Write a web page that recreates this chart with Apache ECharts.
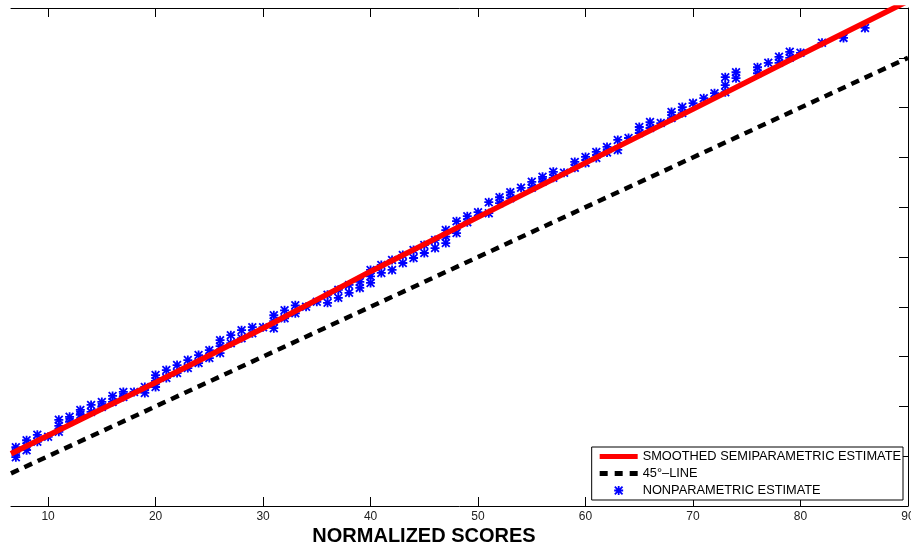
<!DOCTYPE html>
<html>
<head>
<meta charset="utf-8">
<script src="https://cdn.jsdelivr.net/npm/echarts@6.0.0/dist/echarts.min.js"></script>
<style>
html,body{margin:0;padding:0;background:#fff;}
#chart{width:911px;height:545px;}
</style>
</head>
<body>
<div id="chart"></div>
<script type="text/javascript">
// x tick labels
var xTicks = [10, 20, 30, 40, 50, 60, 70, 80, 90];

// smoothed semiparametric estimate (red)
var semiX = [6.55, 20, 30, 40, 50, 60, 70, 80, 90];
var semiY = [10.5, 24.8, 35.7, 47.1, 58.0, 68.9, 79.7, 90.6, 101.4];

// 45 degree line
var diagX = [6.55, 90];
var diagY = [6.55, 90];

// nonparametric estimate (blue stars)
var npX = [7, 7, 7, 8, 8, 8, 9, 9, 10, 11, 11, 11, 12, 12, 13, 13, 14, 14, 15, 15,
  16, 16, 17, 17, 18, 19, 19, 20, 20, 20, 21, 21, 22, 22, 23, 23, 24, 24, 25, 25,
  26, 26, 26, 27, 27, 28, 28, 29, 29, 30, 31, 31, 31, 32, 32, 33, 33, 34, 35,
  36, 36, 37, 37, 38, 38, 39, 39, 40, 40, 40, 41, 41, 42, 42, 43, 43, 44, 44,
  45, 45, 46, 46, 47, 47, 47, 48, 48, 49, 49, 50, 51, 51, 52, 52, 53, 53, 54,
  55, 55, 56, 56, 57, 57, 58, 59, 59, 60, 60, 61, 61, 62, 62, 63, 63, 64,
  65, 65, 66, 66, 67, 68, 68, 69, 69, 70, 71, 72, 73, 73, 73, 74, 74,
  76, 76, 77, 78, 78, 79, 79, 80, 82, 84, 86];
var npY = [11.8, 10.8, 9.8, 13.2, 12.0, 11.2, 14.3, 12.9, 13.9, 17.3, 16.1, 14.9, 17.9, 16.9, 19.3, 18.3, 20.3, 18.9, 20.9, 19.9,
  22.1, 20.9, 22.9, 21.9, 22.9, 23.9, 22.7, 26.3, 25.1, 23.9, 27.3, 25.7, 28.3, 26.7, 29.3, 27.7, 30.3, 28.7, 31.3, 29.7,
  33.3, 32.1, 30.7, 34.3, 32.7, 35.3, 33.7, 35.9, 34.7, 35.9, 38.3, 37.1, 35.7, 39.3, 37.7, 40.3, 38.7, 40.0, 41.0,
  42.4, 40.8, 43.4, 41.8, 44.4, 42.8, 45.0, 43.8, 47.4, 46.1, 44.8, 48.4, 46.8, 49.4, 47.4, 50.4, 48.8, 51.4, 49.8,
  52.4, 50.8, 53.4, 51.8, 55.4, 54.1, 52.8, 57.2, 54.8, 58.2, 57.0, 59.0, 61.0, 58.8, 62.0, 60.8, 63.0, 61.8, 63.9,
  65.1, 63.9, 66.1, 65.1, 67.1, 65.9, 66.9, 69.1, 67.9, 70.1, 68.9, 71.1, 69.9, 72.1, 71.0, 73.5, 71.5, 73.9,
  76.1, 74.9, 77.1, 75.9, 76.9, 79.1, 77.9, 80.1, 78.9, 80.9, 81.9, 82.9, 86.1, 84.5, 83.1, 87.1, 85.9,
  88.1, 86.9, 89.0, 90.2, 89.0, 91.2, 90.0, 91.0, 93.0, 94.0, 96.0];

function pairs(xs, ys) {
  var out = [];
  for (var i = 0; i < xs.length; i++) out.push([xs[i], ys[i]]);
  return out;
}

// matlab style '*' marker
var star = 'path://M8,0L12,0L12,20L8,20Z M0,8L20,8L20,12L0,12Z M2.8,0L20,17.2L17.2,20L0,2.8Z M17.2,0L20,2.8L2.8,20L0,17.2Z';
// legend icons for the two lines
var solidIcon = 'path://M0,0L38,0L38,5L0,5Z';
var dashIcon = 'path://M0,0L8,0L8,5L0,5Z M15,0L23,0L23,5L15,5Z M30,0L38,0L38,5L30,5Z';

var font = '"Liberation Sans", Arial, Helvetica, sans-serif';

var chart = echarts.init(document.getElementById('chart'), null, {renderer: 'canvas'});
chart.setOption({
  animation: false,
  backgroundColor: '#fff',
  grid: {left: 11, right: 3, top: 8, bottom: 39, containLabel: false, outerBoundsMode: 'none'},
  legend: {
    orient: 'vertical',
    right: 8,
    bottom: 45,
    padding: [3, 2, 3, 8],
    itemGap: 4,
    itemWidth: 38,
    itemHeight: 9,
    borderColor: '#000',
    borderWidth: 1,
    backgroundColor: '#fff',
    textStyle: {fontFamily: font, fontSize: 12.8, color: '#000'},
    data: [
      {name: 'SMOOTHED SEMIPARAMETRIC ESTIMATE', icon: solidIcon},
      {name: '45\u00B0\u2013LINE', icon: dashIcon},
      {name: 'NONPARAMETRIC ESTIMATE'}
    ]
  },
  xAxis: [{
    type: 'value',
    position: 'bottom',
    min: 6.55,
    max: 90,
    axisLine: {show: true, onZero: false, lineStyle: {color: '#000', width: 1}},
    axisTick: {show: true, inside: true, length: 9, customValues: xTicks, lineStyle: {color: '#000'}},
    axisLabel: {show: true, margin: 5, customValues: xTicks, fontFamily: font, fontSize: 12, color: '#222'},
    splitLine: {show: false}
  }, {
    type: 'value',
    position: 'top',
    min: 6.55,
    max: 90,
    axisLine: {show: true, onZero: false, lineStyle: {color: '#000', width: 1}},
    axisTick: {show: true, inside: true, length: 9, customValues: xTicks, lineStyle: {color: '#000'}},
    axisLabel: {show: false},
    splitLine: {show: false}
  }],
  yAxis: [{
    type: 'value',
    position: 'right',
    min: 0,
    max: 100,
    interval: 10,
    axisLine: {show: true, onZero: false, lineStyle: {color: '#000', width: 1}},
    axisTick: {show: true, inside: true, length: 9, lineStyle: {color: '#000'}},
    axisLabel: {show: false},
    splitLine: {show: false}
  }],
  graphic: [{
    type: 'text',
    x: 424,
    y: 536,
    style: {
      text: 'NORMALIZED SCORES',
      font: 'bold 20px ' + font,
      fill: '#000',
      align: 'center',
      verticalAlign: 'middle'
    }
  }],
  series: [{
    name: 'SMOOTHED SEMIPARAMETRIC ESTIMATE',
    type: 'line',
    xAxisIndex: 0,
    showSymbol: false,
    symbol: 'none',
    clip: true,
    color: '#ff0000',
    lineStyle: {color: '#ff0000', width: 5.5},
    data: pairs(semiX, semiY)
  }, {
    name: '45\u00B0\u2013LINE',
    type: 'line',
    xAxisIndex: 0,
    showSymbol: false,
    symbol: 'none',
    clip: true,
    color: '#000',
    lineStyle: {color: '#000', width: 4.5, type: [8.5, 6.2], cap: 'butt'},
    data: pairs(diagX, diagY)
  }, {
    name: 'NONPARAMETRIC ESTIMATE',
    type: 'scatter',
    xAxisIndex: 0,
    symbol: star,
    symbolSize: 9,
    itemStyle: {color: '#0000ff', opacity: 1},
    data: pairs(npX, npY)
  }]
});
</script>
</body>
</html>
